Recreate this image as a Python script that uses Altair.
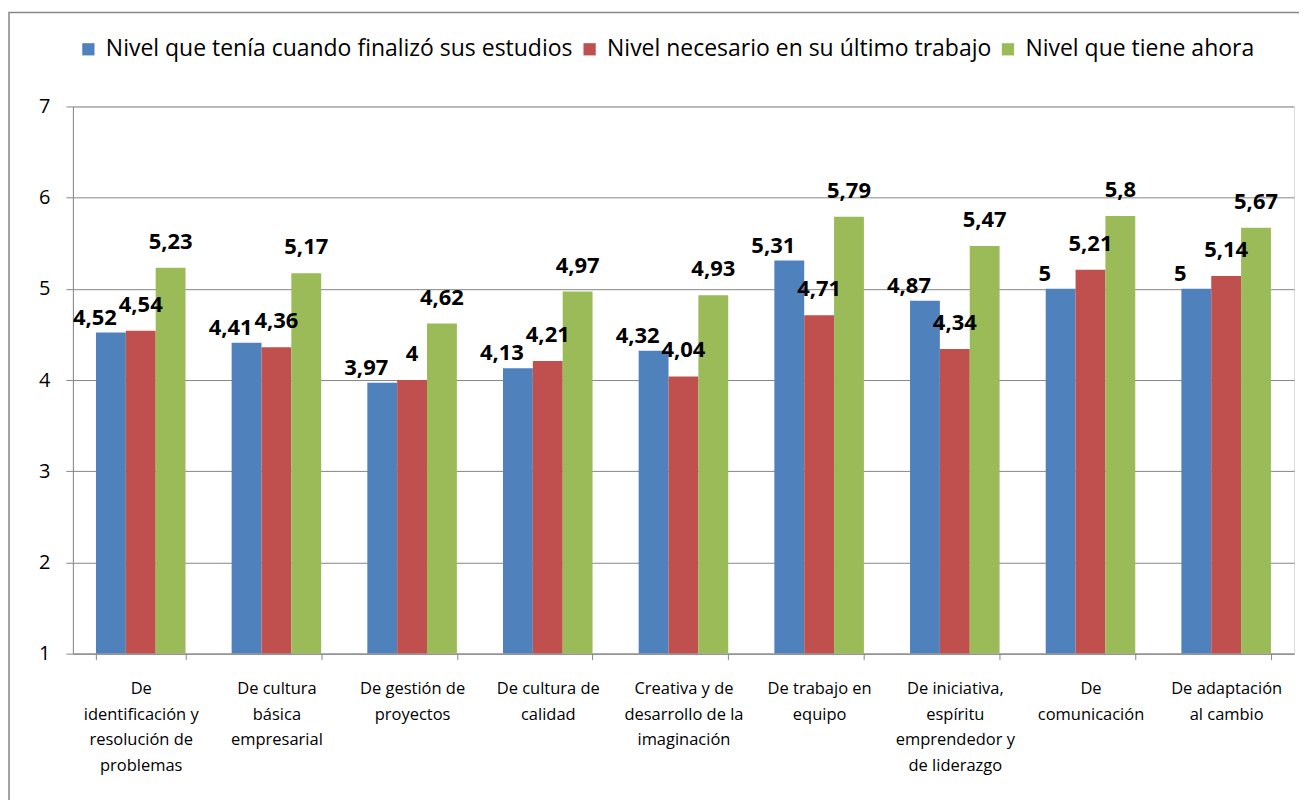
import altair as alt
import pandas as pd

categories = [
    "De|identificación y|resolución de|problemas",
    "De cultura|básica|empresarial",
    "De gestión de|proyectos",
    "De cultura de|calidad",
    "Creativa y de|desarrollo de la|imaginación",
    "De trabajo en|equipo",
    "De iniciativa,|espíritu|emprendedor y|de liderazgo",
    "De|comunicación",
    "De adaptación|al cambio",
]
series_names = [
    "Nivel que tenía cuando finalizó sus estudios",
    "Nivel necesario en su último trabajo",
    "Nivel que tiene ahora",
]
nivel_fin_estudios = [4.52, 4.41, 3.97, 4.13, 4.32, 5.31, 4.87, 5, 5]
nivel_ultimo_trabajo = [4.54, 4.36, 4, 4.21, 4.04, 4.71, 4.34, 5.21, 5.14]
nivel_ahora = [5.23, 5.17, 4.62, 4.97, 4.93, 5.79, 5.47, 5.8, 5.67]
colors = ["#4F81BD", "#C0504D", "#9BBB59"]
y_ticks = [1, 2, 3, 4, 5, 6, 7]

rows = []
for s, vals in zip(series_names, [nivel_fin_estudios, nivel_ultimo_trabajo, nivel_ahora]):
    for c, v in zip(categories, vals):
        rows.append({"cat": c, "series": s, "value": v,
                     "label": f"{v:g}".replace(".", ",")})
df = pd.DataFrame(rows)

FONT = "Open Sans"
W, H = 1223, 548

x_enc = alt.X("cat:N", sort=categories, title=None,
              scale=alt.Scale(paddingInner=0.34, paddingOuter=0.17),
              axis=alt.Axis(labelExpr="isValid(datum.value) ? split(datum.value, '|') : ''",
                            labelAngle=0,
                            labelFont=FONT, labelFontSize=16.5, labelColor="#000000",
                            labelLineHeight=25.7, labelBaseline="top", labelPadding=21,
                            tickBand="extent", tickSize=6, tickColor="#868686",
                            domainColor="#868686", labelLimit=200, grid=False))
xoff = alt.XOffset("series:N", sort=series_names, scale=alt.Scale(paddingInner=0, paddingOuter=0))
y_enc = alt.Y("value:Q", title=None,
              scale=alt.Scale(domain=[1, 7], zero=False, nice=False),
              axis=alt.Axis(values=y_ticks, format="d", labelFont=FONT, labelFontSize=20,
                            labelColor="#000000", labelPadding=16, tickSize=7,
                            tickColor="#868686", domainColor="#868686",
                            gridColor="#868686", gridWidth=1))

bars = alt.Chart(df).mark_bar().encode(
    x=x_enc, xOffset=xoff, y=y_enc, y2=alt.datum(1),
    color=alt.Color("series:N", sort=series_names,
                    scale=alt.Scale(domain=series_names, range=colors),
                    legend=alt.Legend(title=None, orient="none", direction="horizontal",
                                      legendX=4, legendY=-69, symbolType="square",
                                      symbolSize=150, symbolStrokeWidth=0,
                                      labelFont=FONT, labelFontSize=23,
                                      labelColor="#000000", columnPadding=5,
                                      labelOffset=6,
                                      labelLimit=700, symbolOpacity=1)),
)

label_layers = []
offsets = {series_names[0]: (-16, -8), series_names[1]: (0, -19), series_names[2]: (0, -19)}
for s in series_names:
    dx, dy = offsets[s]
    label_layers.append(
        alt.Chart(df).transform_filter(alt.datum.series == s).mark_text(
            font=FONT, fontSize=22, fontWeight="bold", color="#000000",
            baseline="alphabetic", dx=dx, dy=dy).encode(
            x=alt.X("cat:N", sort=categories), xOffset=xoff,
            y=alt.Y("value:Q"), text="label:N")
    )

border = alt.Chart(pd.DataFrame({"a": [0]})).mark_rect(
    fill=None, stroke="#868686", strokeWidth=1.5).encode(
    x=alt.value(-64), x2=alt.value(1260), y=alt.value(-94), y2=alt.value(720))

chart = alt.layer(border, bars, *label_layers).properties(
    width=W, height=H,
    autosize=alt.AutoSizeParams(type="none"),
    padding={"left": 65, "top": 98, "right": 5, "bottom": 146},
).configure_view(stroke=None).configure(background="white")

chart.save("out.html", embed_options={"renderer": "svg", "actions": False})
